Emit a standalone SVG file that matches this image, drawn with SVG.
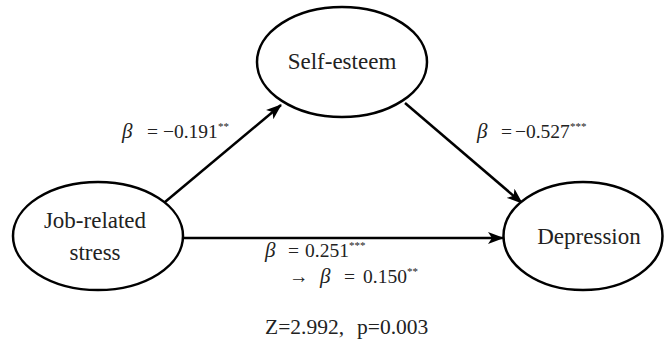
<svg xmlns="http://www.w3.org/2000/svg" width="664" height="343" viewBox="0 0 664 343">
<defs>
<style>
.node{fill:#fff;stroke:#000;stroke-width:2.5}
.nt{font-size:23px;fill:#222;text-anchor:middle}
.lb{font-size:19.5px;fill:#222}
.b{font-style:italic;font-size:21px}
.sup{font-size:11px}
.edge{stroke:#000;stroke-width:2.5;fill:none;marker-end:url(#ah)}
</style>
<marker id="ah" viewBox="0 0 16 12" refX="15" refY="6" markerWidth="16" markerHeight="12" markerUnits="userSpaceOnUse" orient="auto">
<path d="M0,0 L16,6 L0,12 L4,6 z" fill="#000"/>
</marker>
</defs>
<rect width="664" height="343" fill="#fff"/>
<g id="connectors">
<line class="edge" x1="165" y1="202" x2="281" y2="105"/>
<line class="edge" x1="405" y1="103" x2="522" y2="203"/>
<line class="edge" x1="183" y1="238" x2="503" y2="238"/>
</g>
<g font-family="Liberation Serif, DejaVu Serif, serif">
<g id="self-esteem">
<ellipse class="node" cx="342" cy="62" rx="85" ry="55"/>
<text class="nt" x="342" y="69">Self-esteem</text>
</g>
<g id="job-stress">
<ellipse class="node" cx="98" cy="236" rx="85" ry="54"/>
<text class="nt" x="95" y="228">Job-related</text>
<text class="nt" x="95" y="260">stress</text>
</g>
<g id="depression">
<ellipse class="node" cx="583" cy="236" rx="79.5" ry="54"/>
<text class="nt" x="589" y="244">Depression</text>
</g>
<g id="labels">
<text class="lb" y="138"><tspan class="b" x="122">β</tspan><tspan x="147">=</tspan><tspan x="163">−0.191</tspan><tspan class="sup" dy="-8">**</tspan></text>
<text class="lb" y="138"><tspan class="b" x="477">β</tspan><tspan x="501">=</tspan><tspan x="515">−0.527</tspan><tspan class="sup" dy="-8">***</tspan></text>
<text class="lb" y="257"><tspan class="b" x="265">β</tspan><tspan x="288">=</tspan><tspan x="305">0.251</tspan><tspan class="sup" dy="-8">***</tspan></text>
<text class="lb" y="283"><tspan x="289">→</tspan><tspan class="b" x="320">β</tspan><tspan x="344">=</tspan><tspan x="363">0.150</tspan><tspan class="sup" dy="-8">**</tspan></text>
<text class="lb" y="334" style="font-size:21.5px"><tspan x="265">Z=2.992,</tspan><tspan x="357">p=0.003</tspan></text>
</g>
</g>
</svg>
